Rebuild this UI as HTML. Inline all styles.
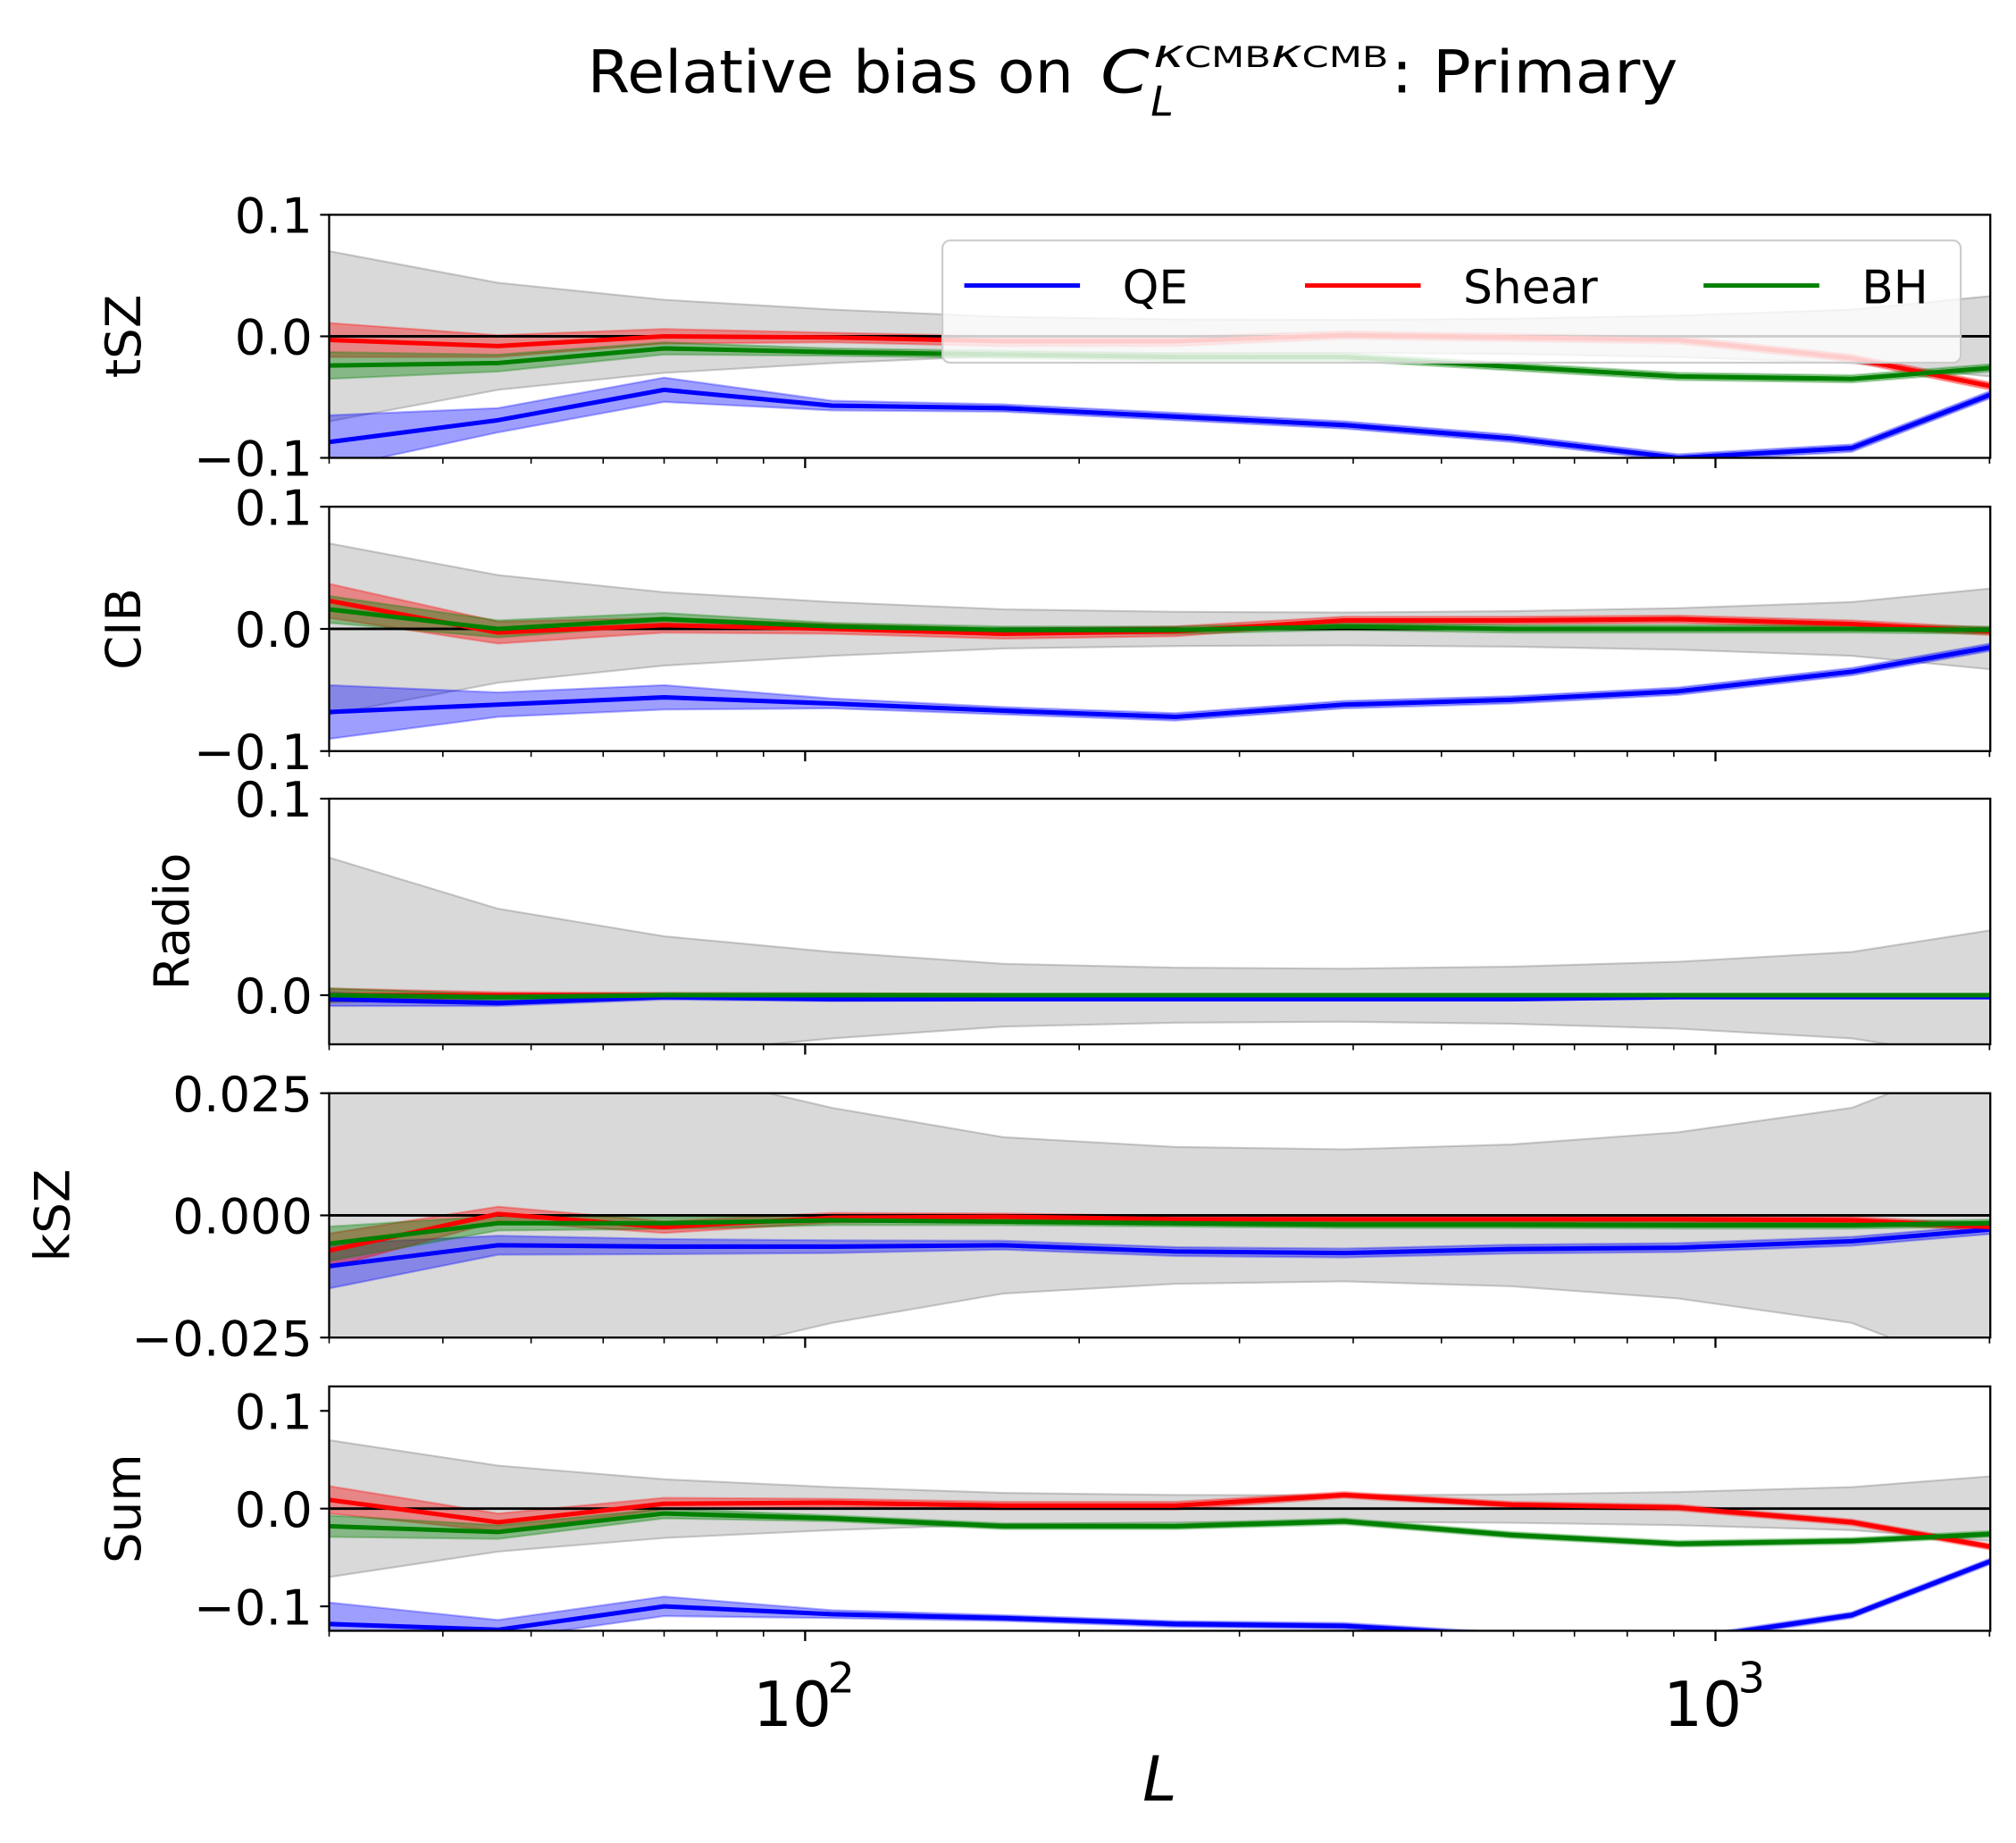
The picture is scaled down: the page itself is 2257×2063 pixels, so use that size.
<!DOCTYPE html>
<html><head><meta charset="utf-8">
<style>
html,body{margin:0;padding:0;background:#fff;}
svg{display:block;}
text{font-family:"DejaVu Sans","Liberation Sans",sans-serif;}
</style></head>
<body>
<svg id="fig" width="2257" height="2063" viewBox="0 0 1568 1433" preserveAspectRatio="none" xmlns="http://www.w3.org/2000/svg">
<rect x="0" y="0" width="1568" height="1433" fill="#fff"/>
<g font-family="Liberation Sans, sans-serif">
<text x="457" y="72" font-size="46" textLength="378" lengthAdjust="spacingAndGlyphs">Relative bias on</text>
<text x="856" y="72" font-size="46" font-style="italic" textLength="38" lengthAdjust="spacingAndGlyphs">C</text>
<text x="897" y="52" font-size="30" textLength="183" lengthAdjust="spacingAndGlyphs"><tspan font-style="italic">κ</tspan><tspan font-size="22">CMB</tspan><tspan font-style="italic">κ</tspan><tspan font-size="22">CMB</tspan></text>
<text x="895" y="90" font-size="32" font-style="italic">L</text>
<text x="1082" y="72" font-size="46" textLength="223" lengthAdjust="spacingAndGlyphs">: Primary</text>
</g>
<g id="plots"></g>
<text x="902" y="1400" font-size="48" font-style="italic" text-anchor="middle">L</text>
</svg>
<script>
const Ls = [30, 46, 70, 107, 165, 255, 391, 597, 910, 1412, 2004];
const sigma = [0.07, 0.044, 0.03, 0.022, 0.016, 0.014, 0.0135, 0.0145, 0.017, 0.022, 0.033];

const tszQE = [-0.087, -0.069, -0.044, -0.057, -0.059, -0.066, -0.073, -0.084, -0.1, -0.092, -0.048];
const tszShear = [-0.003, -0.008, 0, -0.001, -0.004, -0.004, 0.001, -0.001, -0.003, -0.018, -0.041];
const tszBH = [-0.024, -0.022, -0.01, -0.013, -0.015, -0.017, -0.017, -0.025, -0.033, -0.035, -0.026];

const cibQE = [-0.068, -0.062, -0.056, -0.061, -0.067, -0.072, -0.062, -0.058, -0.051, -0.035, -0.015];
const cibShear = [0.023, -0.003, 0.003, 0, -0.004, -0.002, 0.007, 0.007, 0.008, 0.004, -0.002];
const cibBH = [0.016, 0, 0.008, 0.002, -0.001, -0.001, 0.002, 0, 0, 0, -0.001];

const radioQE = [-0.002, -0.004, -0.001, -0.002, -0.002, -0.002, -0.002, -0.002, -0.001, -0.001, -0.001];
const radioShear = [0, 0, 0, 0, 0, 0, 0, 0, 0, 0, 0];
const radioBH = [0, -0.001, 0, 0, 0, 0, 0, 0, 0, 0, 0];

const kszQE = [-0.0104, -0.0061, -0.0064, -0.0064, -0.0061, -0.0074, -0.0077, -0.0069, -0.0066, -0.0053, -0.0029];
const kszShear = [-0.0072, 0.0003, -0.0024, -0.0005, -0.0003, -0.0008, -0.0008, -0.0008, -0.0008, -0.001, -0.0024];
const kszBH = [-0.0058, -0.0016, -0.0016, -0.001, -0.0013, -0.0016, -0.0019, -0.0019, -0.002, -0.002, -0.0016];

const sumQE = [-0.118, -0.124, -0.1, -0.108, -0.112, -0.118, -0.12, -0.13, -0.135, -0.109, -0.054];
const sumShear = [0.009, -0.014, 0.005, 0.006, 0.003, 0.003, 0.014, 0.004, 0.001, -0.014, -0.039];
const sumBH = [-0.018, -0.024, -0.005, -0.01, -0.018, -0.018, -0.013, -0.027, -0.036, -0.033, -0.026];

const errQE = [0.022, 0.01, 0.01, 0.004, 0.003, 0.003, 0.003, 0.003, 0.003, 0.003, 0.003];
const errShear = [0.014, 0.009, 0.006, 0.004, 0.004, 0.004, 0.003, 0.003, 0.003, 0.003, 0.003];
const errBH = [0.011, 0.007, 0.005, 0.003, 0.003, 0.003, 0.003, 0.003, 0.003, 0.003, 0.003];
const errSmall = [0.0035, 0.0015, 0.0012, 0.001, 0.0007, 0.0007, 0.0007, 0.0007, 0.0007, 0.0007, 0.0007];

const NS = "http://www.w3.org/2000/svg";
const X0 = 256, X1 = 1548;
const LMIN = 30, LMAX = 2004;
function xs(L) { return X0 + (Math.log10(L) - Math.log10(LMIN)) / (Math.log10(LMAX) - Math.log10(LMIN)) * (X1 - X0); }
function mk(tag, attrs, parent) { const e = document.createElementNS(NS, tag); for (const k in attrs) e.setAttribute(k, attrs[k]); parent.appendChild(e); return e; }

const panels = [
  {name:"tsz", label:"tSZ", top:167, bot:356, ymin:-0.1, ymax:0.1, ticks:[0.1,0,-0.1], tl:["0.1","0.0","−0.1"], labx:97, qe:tszQE, sh:tszShear, bh:tszBH},
  {name:"cib", label:"CIB", top:394, bot:584, ymin:-0.1, ymax:0.1, ticks:[0.1,0,-0.1], tl:["0.1","0.0","−0.1"], labx:97, qe:cibQE, sh:cibShear, bh:cibBH},
  {name:"radio", label:"Radio", top:621, bot:812, ymin:-0.025, ymax:0.1, ticks:[0.1,0], tl:["0.1","0.0"], labx:135, qe:radioQE, sh:radioShear, bh:radioBH},
  {name:"ksz", label:"kSZ", top:850, bot:1040, ymin:-0.025, ymax:0.025, ticks:[0.025,0,-0.025], tl:["0.025","0.000","−0.025"], labx:42, qe:kszQE, sh:kszShear, bh:kszBH},
  {name:"sum", label:"Sum", top:1078, bot:1268, ymin:-0.125, ymax:0.125, ticks:[0.1,0,-0.1], tl:["0.1","0.0","−0.1"], labx:97, qe:sumQE, sh:sumShear, bh:sumBH}
];

const root = document.getElementById("plots");
const defs = mk("defs", {}, root);

panels.forEach((p) => {
  const ys = v => p.bot - (v - p.ymin) / (p.ymax - p.ymin) * (p.bot - p.top);
  const cp = mk("clipPath", {id: "clip-" + p.name}, defs);
  mk("rect", {x: X0, y: p.top, width: X1 - X0, height: p.bot - p.top}, cp);
  const g = mk("g", {}, root);
  
  
  const inner = mk("g", {"clip-path": "url(#clip-" + p.name + ")"}, g);

  function band(vals, err, fill, stroke, nm) {
    let up = Ls.map((L, i) => xs(L).toFixed(1) + "," + ys(vals[i] + err[i]).toFixed(1));
    let dn = Ls.map((L, i) => xs(L).toFixed(1) + "," + ys(vals[i] - err[i]).toFixed(1)).reverse();
    const b = mk("polygon", {points: up.concat(dn).join(" "), fill: fill, stroke: stroke, "stroke-width": 1.5}, inner);
    
    
  }
  function line(vals, color, nm) {
    const l = mk("polyline", {points: Ls.map((L, i) => xs(L).toFixed(1) + "," + ys(vals[i]).toFixed(1)).join(" "), fill: "none", stroke: color, "stroke-width": 3.5, "stroke-linejoin": "round"}, inner);
    
    
  }
  const zero = Ls.map(() => 0);
  band(zero, sigma, "rgba(128,128,128,0.3)", "rgba(128,128,128,0.4)", p.name + "-sigma-band");
  const small = (p.name === "ksz" || p.name === "radio");
  const eq = p.name === "ksz" ? errSmall.map(v => v * 1.3) : small ? errSmall : errQE;
  const esh = small ? errSmall : errShear;
  const ebh = small ? errSmall : errBH;
  band(p.qe, eq, "rgba(0,0,255,0.38)", "rgba(0,0,255,0.3)", p.name + "-qe-band");
  band(p.sh, esh, "rgba(255,0,0,0.38)", "rgba(255,0,0,0.3)", p.name + "-shear-band");
  band(p.bh, ebh, "rgba(0,128,0,0.38)", "rgba(0,128,0,0.3)", p.name + "-bh-band");
  const z = mk("line", {x1: X0, x2: X1, y1: ys(0), y2: ys(0), stroke: "#000", "stroke-width": 2}, inner);
  
  
  line(p.qe, "#0000ff", p.name + "-qe-line");
  line(p.sh, "#ff0000", p.name + "-shear-line");
  line(p.bh, "#008000", p.name + "-bh-line");

  const fr = mk("rect", {x: X0, y: p.top, width: X1 - X0, height: p.bot - p.top, fill: "none", stroke: "#000", "stroke-width": 1.6}, g);
  
  

  p.ticks.forEach((t, i) => {
    const y = ys(t);
    mk("line", {x1: X0 - 7, x2: X0, y1: y, y2: y, stroke: "#000", "stroke-width": 1.5}, g);
    const tx = mk("text", {x: X0 - 13, y: y + 14, "font-size": 38, "text-anchor": "end"}, g);
    tx.textContent = p.tl[i];
    
    
  });
  for (let d = 10; d <= 1000; d *= 10) {
    for (let m = 1; m <= 9; m++) {
      const L = d * m;
      if (L < LMIN || L > LMAX + 1) continue;
      const major = (m === 1);
      mk("line", {x1: xs(L), x2: xs(L), y1: p.bot, y2: p.bot + (major ? 8 : 4.5), stroke: "#000", "stroke-width": major ? 1.6 : 1.1}, g);
    }
  }
  mk("line", {x1: xs(2000), x2: xs(2000), y1: p.bot, y2: p.bot + 4.5, stroke: "#000", "stroke-width": 1.1}, g);

  const cy = (p.top + p.bot) / 2;
  const yl = mk("text", {x: p.labx + 12, y: cy, "font-size": 38, "text-anchor": "middle", transform: "rotate(-90 " + (p.labx + 12) + " " + cy + ")"}, g);
  yl.textContent = p.label;
  
  
});

const xTickVals = [100, 1000];
const xTickExp = ["2", "3"];
xTickVals.forEach((v, i) => {
  const t = mk("text", {x: xs(v) - 10, y: 1342, "font-size": 48, "text-anchor": "middle"}, root);
  t.textContent = "10";
  
  
  const e = mk("text", {x: xs(v) + 28, y: 1316, "font-size": 33, "text-anchor": "middle"}, root);
  e.textContent = xTickExp[i];
  
  
});

const lg = mk("g", {}, root);


mk("rect", {x: 733, y: 187, width: 792, height: 95, rx: 6, fill: "rgba(255,255,255,0.8)", stroke: "#ccc", "stroke-width": 1.5}, lg);
const legNames = ["QE", "Shear", "BH"];
const legColors = ["#0000ff", "#ff0000", "#008000"];
const legX = [750, 1015, 1325];
legNames.forEach((n, i) => {
  const ln = mk("line", {x1: legX[i], x2: legX[i] + 90, y1: 222, y2: 222, stroke: legColors[i], "stroke-width": 3.5}, lg);
  
  
  const t = mk("text", {x: legX[i] + 123, y: 236, "font-size": 36, "font-family": "Liberation Sans, sans-serif"}, lg);
  t.textContent = n;
  
  
});
</script>
</body></html>
